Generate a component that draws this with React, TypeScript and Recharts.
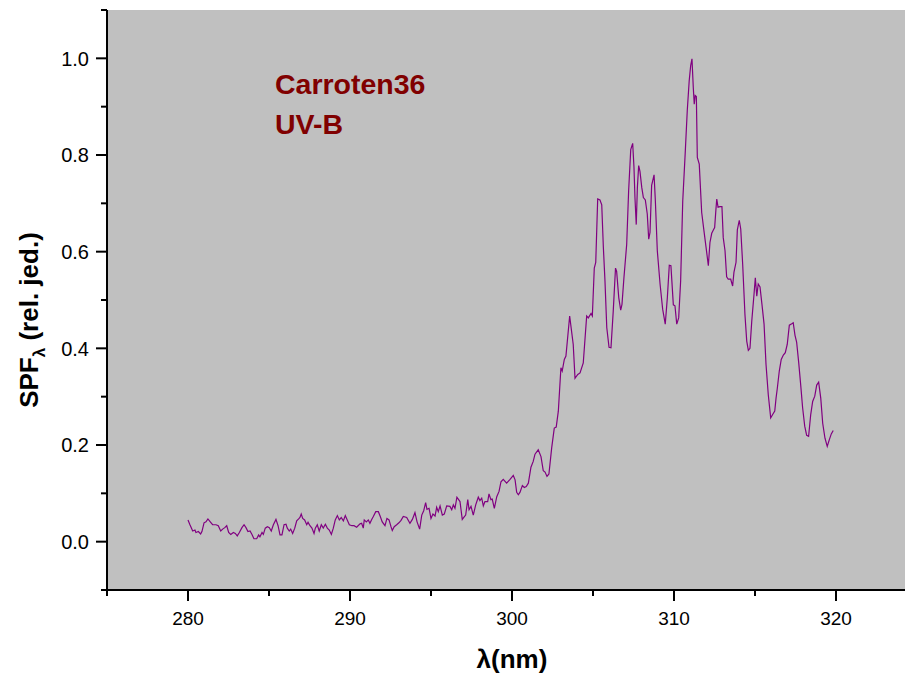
import React from 'react';
import { LineChart, Line, XAxis, YAxis, CartesianGrid, Customized } from 'recharts';

const wavelengths = [
  280.00, 280.12, 280.29, 280.43, 280.49, 280.64, 280.78, 280.86, 280.99, 281.11,
  281.23, 281.40, 281.52, 281.73, 281.87, 282.02, 282.14, 282.27, 282.39, 282.51,
  282.64, 282.80, 282.92, 283.04, 283.17, 283.33, 283.46, 283.58, 283.70, 283.83,
  283.95, 284.07, 284.24, 284.36, 284.44, 284.57, 284.65, 284.77, 284.90, 285.02,
  285.14, 285.27, 285.43, 285.56, 285.68, 285.80, 285.93, 286.05, 286.13, 286.25,
  286.34, 286.46, 286.59, 286.71, 286.83, 286.91, 286.99, 287.08, 287.20, 287.33,
  287.41, 287.53, 287.65, 287.78, 287.86, 287.98, 288.10, 288.23, 288.35, 288.48,
  288.60, 288.72, 288.85, 288.97, 289.09, 289.22, 289.34, 289.46, 289.59, 289.71,
  289.83, 289.96, 290.12, 290.25, 290.41, 290.62, 290.72, 290.82, 290.88, 291.01,
  291.13, 291.23, 291.34, 291.44, 291.59, 291.75, 291.87, 291.99, 292.16, 292.28,
  292.41, 292.53, 292.61, 292.73, 292.88, 293.02, 293.15, 293.29, 293.50, 293.70,
  293.85, 294.01, 294.14, 294.30, 294.43, 294.55, 294.67, 294.75, 294.88, 295.00,
  295.12, 295.25, 295.35, 295.45, 295.56, 295.70, 295.82, 295.97, 296.17, 296.28,
  296.38, 296.48, 296.60, 296.79, 296.93, 297.06, 297.14, 297.27, 297.35, 297.47,
  297.61, 297.76, 297.92, 298.02, 298.13, 298.23, 298.33, 298.50, 298.58, 298.70,
  298.78, 298.91, 299.06, 299.20, 299.32, 299.46, 299.67, 299.88, 300.08, 300.19,
  300.29, 300.39, 300.49, 300.64, 300.76, 300.88, 301.01, 301.17, 301.31, 301.42,
  301.62, 301.79, 301.93, 302.04, 302.16, 302.28, 302.45, 302.61, 302.73, 302.86,
  303.02, 303.10, 303.23, 303.33, 303.56, 303.78, 303.89, 304.06, 304.20, 304.40,
  304.61, 304.71, 304.88, 304.96, 305.08, 305.17, 305.29, 305.43, 305.54, 305.64,
  305.74, 305.85, 305.99, 306.11, 306.25, 306.39, 306.46, 306.59, 306.71, 306.79,
  306.91, 307.08, 307.20, 307.33, 307.45, 307.53, 307.59, 307.67, 307.74, 307.82,
  307.90, 308.01, 308.11, 308.23, 308.35, 308.44, 308.52, 308.62, 308.77, 308.85,
  308.97, 309.14, 309.30, 309.46, 309.59, 309.71, 309.81, 309.96, 310.06, 310.17,
  310.29, 310.41, 310.54, 310.70, 310.82, 310.94, 311.03, 311.11, 311.19, 311.25,
  311.31, 311.38, 311.44, 311.56, 311.71, 311.85, 311.98, 312.12, 312.22, 312.33,
  312.43, 312.51, 312.59, 312.64, 312.72, 312.84, 312.96, 313.04, 313.15, 313.25,
  313.35, 313.50, 313.62, 313.70, 313.83, 313.91, 314.03, 314.12, 314.24, 314.38,
  314.49, 314.59, 314.69, 314.80, 314.94, 315.02, 315.11, 315.20, 315.31, 315.43,
  315.56, 315.68, 315.82, 315.97, 316.09, 316.22, 316.30, 316.38, 316.50, 316.62,
  316.75, 316.87, 316.99, 317.12, 317.27, 317.36, 317.47, 317.57, 317.70, 317.82,
  317.94, 318.07, 318.19, 318.31, 318.44, 318.56, 318.69, 318.81, 318.93, 319.06,
  319.18, 319.32, 319.46, 319.59, 319.71, 319.83,
];

const spf = [
  0.045, 0.035, 0.022, 0.024, 0.019, 0.021, 0.016, 0.021, 0.039, 0.041,
  0.047, 0.040, 0.035, 0.035, 0.033, 0.022, 0.026, 0.029, 0.033, 0.019,
  0.015, 0.019, 0.017, 0.012, 0.019, 0.029, 0.035, 0.029, 0.021, 0.022,
  0.015, 0.006, 0.006, 0.014, 0.010, 0.019, 0.015, 0.028, 0.031, 0.029,
  0.022, 0.035, 0.046, 0.033, 0.014, 0.014, 0.035, 0.036, 0.028, 0.022,
  0.026, 0.017, 0.028, 0.043, 0.047, 0.050, 0.057, 0.048, 0.045, 0.035,
  0.040, 0.033, 0.028, 0.017, 0.028, 0.035, 0.022, 0.035, 0.028, 0.036,
  0.028, 0.024, 0.015, 0.028, 0.045, 0.054, 0.045, 0.050, 0.043, 0.054,
  0.045, 0.035, 0.033, 0.033, 0.030, 0.037, 0.038, 0.028, 0.045, 0.041,
  0.045, 0.038, 0.046, 0.052, 0.062, 0.062, 0.052, 0.041, 0.033, 0.048,
  0.045, 0.031, 0.023, 0.031, 0.035, 0.039, 0.044, 0.052, 0.050, 0.038,
  0.046, 0.060, 0.041, 0.026, 0.055, 0.064, 0.081, 0.067, 0.069, 0.048,
  0.057, 0.053, 0.071, 0.062, 0.074, 0.055, 0.057, 0.074, 0.073, 0.066,
  0.076, 0.069, 0.092, 0.083, 0.046, 0.052, 0.055, 0.087, 0.066, 0.073,
  0.055, 0.076, 0.092, 0.085, 0.090, 0.074, 0.083, 0.083, 0.099, 0.087,
  0.088, 0.069, 0.093, 0.104, 0.124, 0.129, 0.121, 0.129, 0.137, 0.128,
  0.102, 0.097, 0.102, 0.116, 0.112, 0.114, 0.121, 0.154, 0.166, 0.181,
  0.190, 0.176, 0.147, 0.144, 0.135, 0.140, 0.194, 0.235, 0.237, 0.270,
  0.360, 0.353, 0.377, 0.384, 0.467, 0.408, 0.338, 0.346, 0.349, 0.370,
  0.467, 0.463, 0.472, 0.467, 0.566, 0.578, 0.709, 0.707, 0.697, 0.609,
  0.539, 0.443, 0.402, 0.401, 0.477, 0.566, 0.559, 0.505, 0.479, 0.491,
  0.546, 0.615, 0.726, 0.811, 0.824, 0.774, 0.712, 0.656, 0.733, 0.778,
  0.766, 0.733, 0.712, 0.707, 0.678, 0.626, 0.640, 0.737, 0.759, 0.705,
  0.602, 0.533, 0.481, 0.450, 0.505, 0.572, 0.571, 0.490, 0.488, 0.450,
  0.463, 0.539, 0.705, 0.809, 0.892, 0.954, 0.985, 0.999, 0.940, 0.905,
  0.923, 0.921, 0.795, 0.781, 0.681, 0.643, 0.609, 0.571, 0.619, 0.638,
  0.645, 0.650, 0.688, 0.709, 0.692, 0.693, 0.693, 0.629, 0.602, 0.548,
  0.543, 0.543, 0.529, 0.557, 0.578, 0.645, 0.665, 0.647, 0.574, 0.470,
  0.415, 0.396, 0.400, 0.456, 0.512, 0.546, 0.508, 0.533, 0.527, 0.491,
  0.450, 0.367, 0.304, 0.256, 0.263, 0.270, 0.297, 0.318, 0.353, 0.377,
  0.386, 0.391, 0.408, 0.448, 0.451, 0.453, 0.427, 0.413, 0.370, 0.325,
  0.277, 0.239, 0.220, 0.218, 0.263, 0.290, 0.301, 0.324, 0.330, 0.297,
  0.245, 0.214, 0.197, 0.211, 0.223, 0.230,
];

const xTicks = [275, 280, 285, 290, 295, 300, 305, 310, 315, 320];
const xLabelTicks = [280, 290, 300, 310, 320];
const yTicks = [-0.1, 0, 0.1, 0.2, 0.3, 0.4, 0.5, 0.6, 0.7, 0.8, 0.9, 1.0, 1.1];
const yLabelTicks = ['0.0', '0.2', '0.4', '0.6', '0.8', '1.0'];
const annotationLines = ['Carroten36', 'UV-B'];

const data = wavelengths.map((w, i) => ({ w, v: spf[i] }));

const FONT = 'Arial, "Liberation Sans", sans-serif';
const AXIS_X = 107;
const AXIS_Y = 590;

function XTick(props: any) {
  const { x, payload } = props;
  const major = xLabelTicks.includes(payload.value);
  return (
    <g>
      <line x1={x} x2={x} y1={AXIS_Y} y2={AXIS_Y + (major ? 11 : 6)} stroke="#000" strokeWidth={2} />
      {major && (
        <text x={x} y={625} textAnchor="middle" fontSize={19} fontFamily={FONT} fill="#000">
          {payload.value}
        </text>
      )}
    </g>
  );
}

function YTick(props: any) {
  const { y, payload } = props;
  const label = Number(payload.value).toFixed(1);
  const major = yLabelTicks.includes(label);
  return (
    <g>
      <line x1={AXIS_X} x2={AXIS_X - (major ? 11 : 6)} y1={y} y2={y} stroke="#000" strokeWidth={2} />
      {major && (
        <text x={89} y={y} dy="0.36em" textAnchor="end" fontSize={20} fontFamily={FONT} fill="#000">
          {label}
        </text>
      )}
    </g>
  );
}

function Texts() {
  return (
    <g fontFamily={FONT} fontWeight="bold">
      <text x={38} y={320} transform="rotate(-90 38 320)" textAnchor="middle" fontSize={26} fill="#000">
        SPF
        <tspan dy={7} fontSize={17}>λ</tspan>
        <tspan dy={-7}> (rel. jed.)</tspan>
      </text>
      <text x={512} y={668} textAnchor="middle" fontSize={26} fill="#000">
        λ(nm)
      </text>
      {annotationLines.map((t, i) => (
        <text key={t} x={275} y={94 + i * 40} fontSize={28.5} fill="#800000">
          {t}
        </text>
      ))}
    </g>
  );
}

export default function App() {
  return (
    <div style={{ position: 'absolute', left: 0, top: 0, width: 905, height: 680, background: '#fff' }}>
      <LineChart width={905} height={680} data={data} margin={{ top: 10, right: 0, bottom: 0, left: 0 }}>
        <CartesianGrid fill="#C0C0C0" horizontal={false} vertical={false} stroke="none" />
        <XAxis
          dataKey="w"
          type="number"
          domain={[275, 324.26]}
          ticks={xTicks}
          interval={0}
          tick={<XTick />}
          tickLine={false}
          axisLine={{ stroke: '#000', strokeWidth: 2 }}
          height={90}
          allowDataOverflow
        />
        <YAxis
          type="number"
          domain={[-0.1, 1.1]}
          ticks={yTicks}
          interval={0}
          tick={<YTick />}
          tickLine={false}
          axisLine={{ stroke: '#000', strokeWidth: 2 }}
          width={107}
          allowDataOverflow
        />
        <Line
          type="linear"
          dataKey="v"
          stroke="#800080"
          strokeWidth={1.2}
          dot={false}
          isAnimationActive={false}
        />
        <Customized component={Texts} />
      </LineChart>
    </div>
  );
}
